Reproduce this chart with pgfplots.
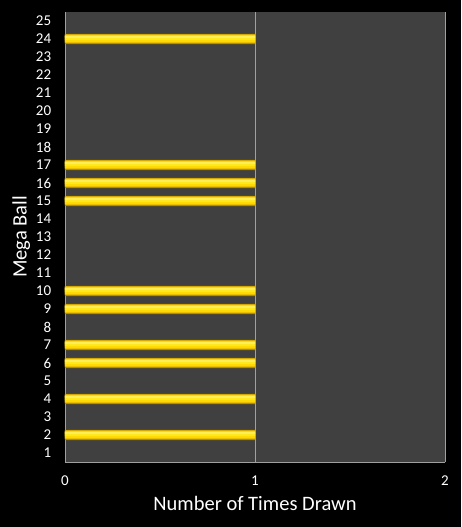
\documentclass[border=0pt]{standalone}
\usepackage{pgfplots}
\pgfplotsset{compat=1.18}
\usepackage{fontspec}
\setmainfont{Carlito}
\definecolor{plotbg}{HTML}{404040}
\definecolor{gridc}{HTML}{A0A0A0}
\definecolor{barA}{HTML}{B08600}
\definecolor{barB}{HTML}{E8BC00}
\definecolor{barC}{HTML}{FFD800}
\definecolor{barD}{HTML}{FFE820}
\definecolor{barE}{HTML}{FFF27A}
\pgfplotstableread{
x y
1 2
1 4
1 6
1 7
1 9
1 10
1 15
1 16
1 17
1 24
}\draws
\begin{document}
\begin{tikzpicture}[x=1pt,y=1pt]
\fill[black] (0,0) rectangle (461,527);
\begin{axis}[
  at={(65pt,65pt)}, anchor=south west,
  scale only axis, width=380pt, height=450pt,
  xbar, bar width=0.58,
  xmin=0, xmax=2, ymin=0.5, ymax=25.5,
  xtick={0,1,2}, ytick={1,...,25},
  axis background/.style={fill=plotbg},
  axis line style={draw=none},
  xmajorgrids, grid style={gridc, line width=0.8pt},
  tick style={draw=none},
  ticklabel style={text=white, font=\fontsize{15}{16}\selectfont},
  /pgf/number format/assume math mode=true,
  xticklabel style={yshift=-10pt},
  yticklabel style={xshift=-6pt},
  xlabel={Number of Times Drawn},
  ylabel={Mega Ball},
  label style={text=white, font=\fontsize{20.5}{22}\selectfont},
  xlabel style={yshift=-4pt},
  ylabel style={yshift=-1pt},
  extra description/.code={
    \draw[gridc, line width=0.8pt] (rel axis cs:0,0) -- (rel axis cs:1,0);
  },
]
\addplot[draw=none, fill=barA, bar width=0.58, bar shift=0pt] table[x=x,y=y] {\draws};
\addplot[draw=none, fill=barB, bar width=0.48, bar shift=0.01] table[x=x,y=y] {\draws};
\addplot[draw=none, fill=barC, bar width=0.38, bar shift=0.02] table[x=x,y=y] {\draws};
\addplot[draw=none, fill=barD, bar width=0.22, bar shift=0.05] table[x=x,y=y] {\draws};
\addplot[draw=none, fill=barE, bar width=0.07, bar shift=0.11] table[x=x,y=y] {\draws};
\end{axis}
\end{tikzpicture}
\end{document}
